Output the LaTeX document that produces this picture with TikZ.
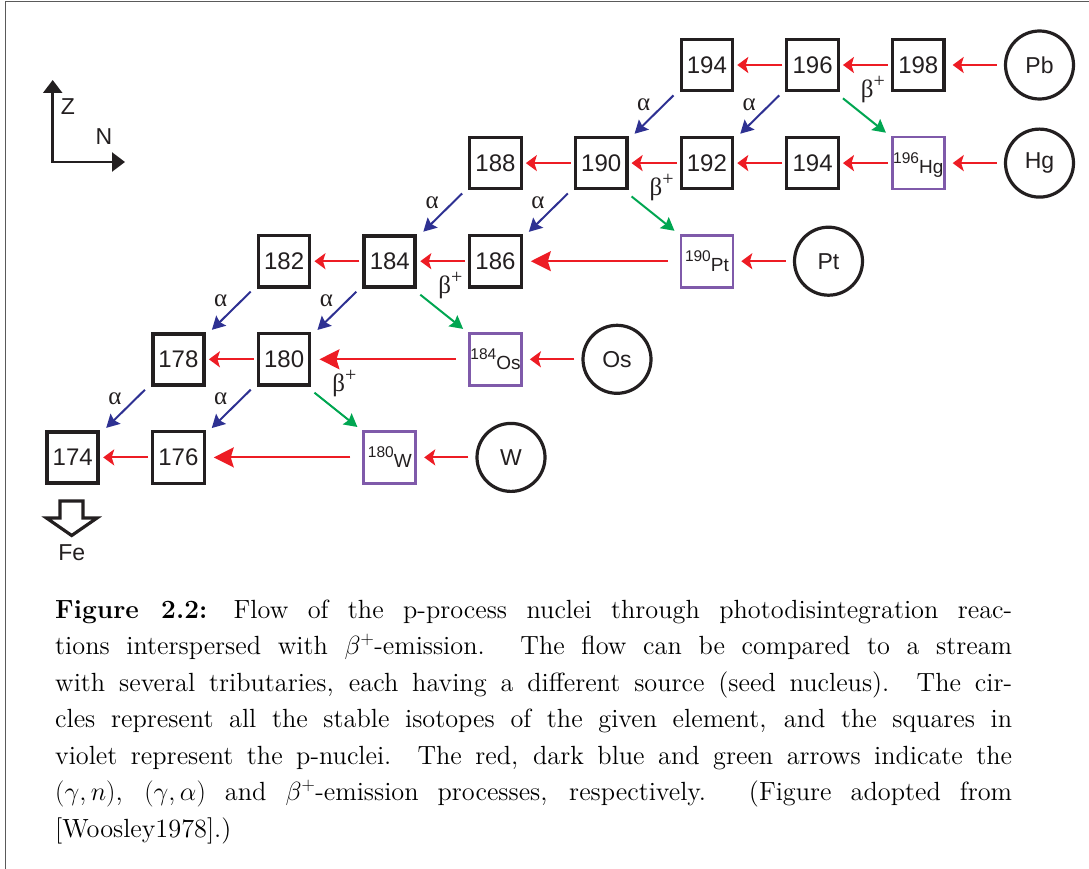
\RequirePackage{fix-cm}
\documentclass[tikz,border=0pt]{standalone}
\usepackage{fontspec}
\setmainfont{lmroman12-regular.otf}[BoldFont=lmroman12-bold.otf, ItalicFont=lmroman12-italic.otf]
\newfontfamily\arial{Liberation Sans}
\newfontfamily\tms{Liberation Serif}
\usetikzlibrary{arrows.meta,calc}
\definecolor{ink}{RGB}{35,31,32}
\definecolor{redc}{RGB}{237,28,36}
\definecolor{bluec}{RGB}{46,49,146}
\definecolor{greenc}{RGB}{0,166,81}
\definecolor{violetc}{RGB}{127,90,170}
\definecolor{framec}{RGB}{90,90,90}
\begin{document}
\begin{tikzpicture}[x=1pt,y=-1pt,
  nuc/.style={draw=ink, line width=3.2pt, minimum size=51.5pt, inner sep=0pt, text=ink, font=\arial\fontsize{24}{24}\selectfont},
  nucthick/.style={nuc, line width=4pt, minimum size=51pt},
  pnuc/.style={draw=violetc, line width=2.8pt, minimum size=52pt, inner sep=0pt, text=ink, text height=21pt, text depth=0pt, font=\arial\fontsize{19}{19}\selectfont},
  elem/.style={circle, draw=ink, line width=3.2pt, minimum size=68pt, inner sep=0pt, text=ink, font=\arial\fontsize{23}{23}\selectfont},
  rarr/.style={draw=redc, line width=2pt, -{Stealth[length=11pt,width=16pt,inset=2.5pt]}, shorten >=3pt, shorten <=3pt},
  rlong/.style={draw=redc, line width=2pt, -{Stealth[length=20pt,width=20pt,inset=3pt]}, shorten >=8pt, shorten <=12pt},
  rcirc/.style={rarr, shorten >=7pt, shorten <=7pt},
  aarr/.style={draw=bluec, line width=2pt, -{Stealth[length=13pt,width=14pt,inset=2pt]}},
  barr/.style={draw=greenc, line width=2pt, -{Stealth[length=13pt,width=14pt,inset=2pt]}},
  alab/.style={inner sep=0pt, text=ink, font=\tms\fontsize{25}{25}\selectfont},
  sanslab/.style={inner sep=0pt, text=ink, font=\arial\fontsize{23}{23}\selectfont}
]
\useasboundingbox (0,0) rectangle (1089,869);
% frame
\draw[framec, line width=1.2pt] (5.5,869) -- (5.5,1.7) -- (1089,1.7);

% axes
\coordinate (O) at (52.7,162);
\coordinate (Zt) at (52.7,80);
\coordinate (Nt) at (125,162);
\draw[ink, line width=2.5pt, {Triangle[length=13pt,width=19pt]}-{Triangle[length=13pt,width=19pt]}] (Zt) -- (O) -- (Nt);
\node[sanslab] (Z) at (68,107) {Z};
\node[sanslab] (N) at (104,137) {N};

% Fe arrow
\draw[ink, line width=3.2pt, line join=miter] (60,501) -- (83,501) -- (83,518) -- (97,518) -- (71.7,535.5) -- (46.5,518) -- (60,518) -- cycle;
\node[sanslab] (Fe) at (71.7,553) {Fe};

% row 0
\node[nuc] (n194a) at (706.9,65) {194};
\node[nuc] (n196a) at (812.6,65) {196};
\node[nuc] (n198) at (918.3,65) {198};
\node[elem] (Pb) at (1039.5,65) {Pb};
% row 1
\node[nuc] (n188) at (495.5,163.1) {188};
\node[nuc] (n190) at (601.2,163.1) {190};
\node[nuc] (n192) at (706.9,163.1) {192};
\node[nuc] (n194b) at (812.6,163.1) {194};
\node[pnuc] (Hg196) at (918.3,163.1) {\raisebox{10pt}{\fontsize{15.5}{15.5}\selectfont 196}Hg};
\node[elem] (Hg) at (1039.5,163.1) {Hg};
% row 2
\node[nuc] (n182) at (284.1,261.2) {182};
\node[nucthick] (n184) at (389.8,261.2) {184};
\node[nuc] (n186) at (495.5,261.2) {186};
\node[pnuc] (Pt190) at (706.9,261.2) {\raisebox{10pt}{\fontsize{15.5}{15.5}\selectfont 190}Pt};
\node[elem] (Pt) at (828.5,261.2) {Pt};
% row 3
\node[nucthick] (n178) at (178.4,359.3) {178};
\node[nuc] (n180) at (284.1,359.3) {180};
\node[pnuc] (Os184) at (495.5,359.3) {\raisebox{10pt}{\fontsize{15.5}{15.5}\selectfont 184}Os};
\node[elem] (Os) at (617,359.3) {Os};
% row 4
\node[nucthick] (n174) at (72.7,457.4) {174};
\node[nuc] (n176) at (178.4,457.4) {176};
\node[pnuc] (W180) at (389.8,457.4) {\raisebox{10pt}{\fontsize{15.5}{15.5}\selectfont 180}W};
\node[elem] (W) at (511,457.4) {W};

% red (gamma,n) arrows
\draw[rcirc] (Pb) -- (n198);
\draw[rarr] (n198) -- (n196a);
\draw[rarr] (n196a) -- (n194a);
\draw[rcirc] (Hg) -- (Hg196);
\draw[rarr] (Hg196) -- (n194b);
\draw[rarr] (n194b) -- (n192);
\draw[rarr] (n192) -- (n190);
\draw[rarr] (n190) -- (n188);
\draw[rcirc] (Pt) -- (Pt190);
\draw[rlong] (Pt190) -- (n186);
\draw[rarr] (n186) -- (n184);
\draw[rarr] (n184) -- (n182);
\draw[rcirc] (Os) -- (Os184);
\draw[rlong] (Os184) -- (n180);
\draw[rarr] (n180) -- (n178);
\draw[rcirc] (W) -- (W180);
\draw[rlong] (W180) -- (n176);
\draw[rarr] (n176) -- (n174);

% alpha arrows
\foreach \u/\l in {n194a/n190, n196a/n192, n188/n184, n190/n186, n184/n180, n182/n178, n178/n174, n180/n176}{
  \draw[aarr] ($(\u.south west)+(-6,3)$) -- ($(\l.north east)+(6,-2)$);
  \node[alab] at ($(\u.south west)+(-36,12)$) {α};
}
% beta arrows
\foreach \u/\l in {n196a/Hg196, n190/Pt190, n184/Os184, n180/W180}{
  \draw[barr] ($(\u.south east)+(3,6)$) -- ($(\l.north west)+(-5,-3)$);
  \node[alab] at ($(\u.south east)+(33,-3)$) {β\raisebox{10pt}{\fontsize{20}{20}\selectfont +}};
}

% caption
\node[anchor=base west, inner sep=0pt] (cap) at (55,618) {\parbox[t]{957pt}{\fontsize{26.3}{36.5}\selectfont
\hbox to\hsize{\textbf{Figure 2.2:}\quad Flow of the p-process nuclei through photodisintegration reac-}
\hbox to\hsize{tions interspersed with $\beta^+$-emission. The flow can be compared to a stream}
\hbox to\hsize{with several tributaries, each having a different source (seed nucleus). The cir-}
\hbox to\hsize{cles represent all the stable isotopes of the given element, and the squares in}
\hbox to\hsize{violet represent the p-nuclei. The red, dark blue and green arrows indicate the}
\hbox to\hsize{$(\gamma,n)$, $(\gamma,\alpha)$ and $\beta^+$-emission processes, respectively. (Figure adopted from}
\hbox{[Woosley1978].)}}};
\end{tikzpicture}
\end{document}
